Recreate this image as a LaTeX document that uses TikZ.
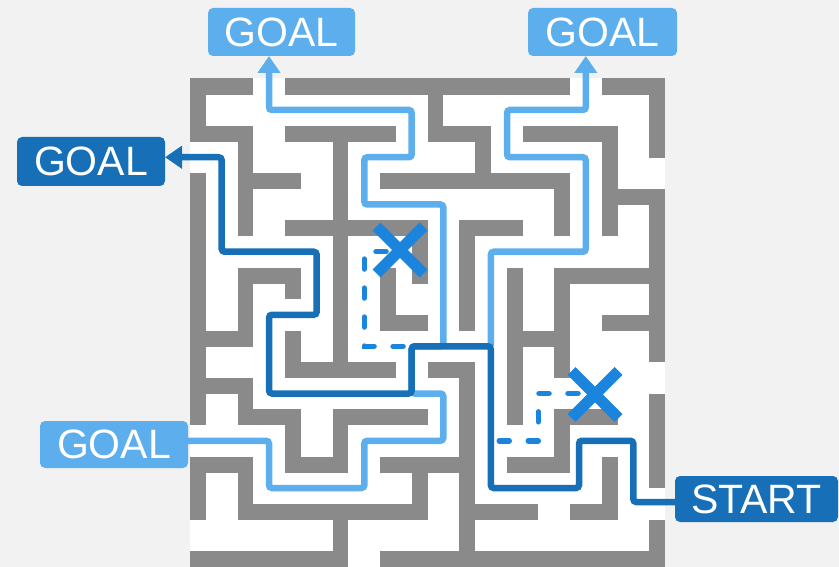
\documentclass[tikz,border=0pt]{standalone}
\usepackage{fontspec}
\setmainfont{Liberation Sans}
\usetikzlibrary{arrows.meta}
\definecolor{wallc}{HTML}{8A8A8A}
\definecolor{lb}{HTML}{5DAEEC}
\definecolor{db}{HTML}{166FB7}
\definecolor{xb}{HTML}{1B84DC}
\definecolor{bgc}{HTML}{F2F2F2}
\begin{document}
\begin{tikzpicture}[x=1pt,y=-1pt,
  lbl/.style={rounded corners=5pt, text=white, inner sep=0pt, font=\fontsize{41}{41}\selectfont},
  lbpath/.style={draw=lb, line width=6.5pt, rounded corners=3pt},
  dbpath/.style={draw=db, line width=6.5pt, rounded corners=3pt},
  dashpath/.style={draw=xb, line width=5.5pt, line cap=round, dash pattern=on 10pt off 19pt},
  xmark/.style={draw=xb, line width=11pt, line cap=butt},
  tip/.style={-{Triangle[width=22pt,length=17pt]}}]
\useasboundingbox (0,0) rectangle (839,567);
\fill[bgc] (0,0) rectangle (839,567);
\fill[white] (190,78.5) rectangle (665,567);
% maze walls: row / first column / last column
\foreach \r/\a/\b in {
 0/0/3, 0/6/23, 0/26/29,
 1/0/0, 1/15/15, 1/29/29,
 2/0/0, 2/15/15, 2/29/29,
 3/0/3, 3/6/12, 3/15/18, 3/21/26, 3/29/29,
 4/3/3, 4/9/9, 4/18/18, 4/26/26, 4/29/29,
 5/3/3, 5/9/9, 5/18/18, 5/26/26,
 6/0/0, 6/3/6, 6/9/9, 6/12/23, 6/26/26,
 7/0/0, 7/3/3, 7/9/9, 7/23/23, 7/26/29,
 8/0/0, 8/3/3, 8/9/9, 8/23/23, 8/26/26, 8/29/29,
 9/0/0, 9/3/3, 9/6/14, 9/17/20, 9/23/23, 9/26/26, 9/29/29,
 10/0/0, 10/9/9, 10/14/14, 10/17/17, 10/29/29,
 11/0/0, 11/9/9, 11/14/14, 11/17/17, 11/29/29,
 12/0/0, 12/3/6, 12/9/9, 12/12/12, 12/14/14, 12/17/17, 12/20/20, 12/23/29,
 13/0/0, 13/3/3, 13/6/6, 13/9/9, 13/12/12, 13/17/17, 13/20/20, 13/23/23, 13/29/29,
 14/0/0, 14/3/3, 14/9/9, 14/12/12, 14/17/17, 14/20/20, 14/23/23, 14/29/29,
 15/0/0, 15/3/3, 15/9/9, 15/12/14, 15/17/17, 15/20/20, 15/23/23, 15/26/29,
 16/0/3, 16/6/6, 16/9/9, 16/20/23, 16/29/29,
 17/0/0, 17/6/6, 17/9/9, 17/20/20, 17/23/23, 17/29/29,
 18/0/0, 18/6/12, 18/15/17, 18/20/20, 18/23/23,
 19/0/3, 19/17/17, 19/20/20,
 20/0/0, 20/3/3, 20/17/17, 20/20/20, 20/29/29,
 21/0/0, 21/3/6, 21/9/14, 21/17/17, 21/20/20, 21/23/26, 21/29/29,
 22/6/6, 22/9/9, 22/17/17, 22/23/23, 22/29/29,
 23/6/6, 23/9/9, 23/17/17, 23/23/23, 23/29/29,
 24/0/3, 24/6/9, 24/12/17, 24/20/23, 24/26/26, 24/29/29,
 25/0/0, 25/3/3, 25/14/14, 25/17/17, 25/26/26, 25/29/29,
 26/0/0, 26/3/3, 26/14/14, 26/17/17, 26/26/26,
 27/0/0, 27/3/14, 27/17/21, 27/24/26,
 28/9/9, 28/17/17, 28/29/29,
 29/9/9, 29/17/17, 29/29/29,
 30/0/9, 30/12/29}
 \fill[wallc] ({190+15.8333*\a},{78.5+15.75*\r}) rectangle ({190+15.8333*(\b+1)},{78.5+15.75*(\r+1)+0.3});
% labels
\node[lbl, fill=lb, minimum width=147pt, minimum height=48pt] (g1) at (281.5,32) {GOAL};
\node[lbl, fill=lb, minimum width=149pt, minimum height=48pt] (g2) at (602.5,32) {GOAL};
\node[lbl, fill=db, minimum width=148pt, minimum height=49pt] (g3) at (91,161.5) {GOAL};
\node[lbl, fill=lb, minimum width=148pt, minimum height=47pt] (g4) at (114,444.5) {GOAL};
\node[lbl, fill=db, minimum width=163pt, minimum height=46pt] (st) at (756.5,499) {START};
% path end points on the labels
\coordinate (e1) at (269,56);
\coordinate (e2) at (585.8,56);
\coordinate (e3) at (165,157.25);
\coordinate (e4) at (186,440.75);
\coordinate (e5) at (677,502);
% light blue paths
\draw[lbpath, tip] (e4) -- (269,440.75) -- (269,488) -- (364.3,488) -- (364.3,440.75) -- (443.3,440.75) -- (443.3,393.5) -- (411.7,393.5) -- (411.7,346.25) -- (443.3,346.25) -- (443.3,204.5) -- (364.3,204.5) -- (364.3,157.25) -- (411.7,157.25) -- (411.7,110) -- (269,110) -- (e1);
\draw[lbpath, tip] (490.8,346.25) -- (490.8,251.75) -- (585.8,251.75) -- (585.8,157.25) -- (507,157.25) -- (507,110) -- (585.8,110) -- (e2);
% dark blue path
\draw[dbpath, tip] (e5) -- (633.3,502) -- (633.3,440.75) -- (579,440.75) -- (579,488) -- (490.8,488) -- (490.8,346.25) -- (411.7,346.25) -- (411.7,393.5) -- (269,393.5) -- (269,314.75) -- (316.7,314.75) -- (316.7,251.75) -- (221.7,251.75) -- (221.7,157.25) -- (e3);
% dashed dead ends
\draw[dashpath] (386,251.75) -- (364.3,251.75) -- (364.3,346.25) -- (408,346.25);
\draw[dashpath] (578,393.5) -- (538.3,393.5) -- (538.3,440.75) -- (492,440.75);
% crosses
\draw[xmark] (376.5,226.5) -- (423.5,273.5);
\draw[xmark] (376.5,273.5) -- (423.5,226.5);
\draw[xmark] (571.5,371) -- (618.5,418);
\draw[xmark] (571.5,418) -- (618.5,371);
\end{tikzpicture}
\end{document}
